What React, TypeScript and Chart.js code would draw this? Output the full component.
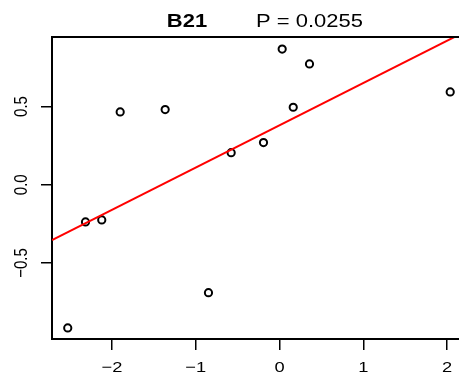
import React, { useEffect, useRef } from "react";
import { Chart, registerables } from "chart.js";

Chart.register(...registerables);

const TITLE_NAME = "B21";
const TITLE_P = "P = 0.0255";

const X_VALUES = [-2.528, -2.316, -2.122, -1.902, -1.365, -0.848, -0.577, -0.191, 0.032, 0.164, 0.358, 2.038];
const Y_VALUES = [-0.915, -0.238, -0.225, 0.465, 0.48, -0.69, 0.205, 0.269, 0.867, 0.495, 0.772, 0.593];

const FIT_INTERCEPT = 0.38;
const FIT_SLOPE = 0.27;

const X_TICKS = [-2, -1, 0, 1, 2];
const Y_TICKS = [-0.5, 0, 0.5];

const X_MIN = -2.716;
const X_MAX = 2.143;
const Y_MIN = -0.986;
const Y_MAX = 0.944;

const FONT = '"Liberation Sans", Arial, Helvetica, sans-serif';
const STRETCH = 1.22;

const fmtX = (v: number) => String(v).replace("-", "\u2212");
const fmtY = (v: number) => v.toFixed(1).replace("-", "\u2212");

const decorPlugin = {
  id: "decor",
  afterDraw(chart: any) {
    const { ctx, chartArea, scales } = chart;
    const xs = scales.x;
    const ys = scales.y;
    ctx.save();
    // top box line
    ctx.strokeStyle = "#000";
    ctx.lineWidth = 2;
    ctx.beginPath();
    ctx.moveTo(chartArea.left - 1, chartArea.top);
    ctx.lineTo(chartArea.right + 2, chartArea.top);
    ctx.stroke();

    ctx.fillStyle = "#000";
    // x tick labels
    ctx.font = `15px ${FONT}`;
    ctx.textAlign = "center";
    ctx.textBaseline = "alphabetic";
    X_TICKS.forEach((v) => {
      const px = xs.getPixelForValue(v);
      ctx.save();
      ctx.translate(px, chartArea.bottom + 33);
      ctx.scale(STRETCH, 1);
      ctx.fillText(fmtX(v), 0, 0);
      ctx.restore();
    });
    // y tick labels (rotated)
    Y_TICKS.forEach((v) => {
      const py = ys.getPixelForValue(v);
      ctx.save();
      ctx.translate(chartArea.left - 25, py);
      ctx.rotate(-Math.PI / 2);
      ctx.scale(1, STRETCH);
      ctx.fillText(fmtY(v), 0, 0);
      ctx.restore();
    });
    // title
    ctx.textAlign = "center";
    ctx.save();
    ctx.font = `bold 18px ${FONT}`;
    ctx.translate(chartArea.left + 135, 27);
    ctx.scale(STRETCH, 1);
    ctx.fillText(TITLE_NAME, 0, 0);
    ctx.restore();
    ctx.save();
    ctx.font = `18px ${FONT}`;
    ctx.translate(chartArea.left + 257.5, 27);
    ctx.scale(STRETCH, 1);
    ctx.fillText(TITLE_P, 0, 0);
    ctx.restore();
    ctx.restore();
  },
};

export default function App() {
  const ref = useRef<HTMLCanvasElement | null>(null);

  useEffect(() => {
    if (!ref.current) return;
    const points = X_VALUES.map((x, i) => ({ x, y: Y_VALUES[i] }));
    const fit = [X_MIN, X_MAX].map((x) => ({ x, y: FIT_INTERCEPT + FIT_SLOPE * x }));
    const chart = new Chart(ref.current, {
      type: "scatter",
      data: {
        datasets: [
          {
            type: "line",
            data: fit,
            borderColor: "#ff0000",
            borderWidth: 2,
            pointRadius: 0,
            fill: false,
            tension: 0,
          } as any,
          {
            data: points,
            pointStyle: "circle",
            pointRadius: 3.6,
            pointBorderWidth: 2,
            borderColor: "#000",
            backgroundColor: "rgba(0,0,0,0)",
            pointBackgroundColor: "rgba(0,0,0,0)",
            pointBorderColor: "#000",
          } as any,
        ],
      },
      options: {
        responsive: false,
        animation: false,
        events: [],
        layout: { autoPadding: false, padding: { top: 37, left: 0, right: 0, bottom: 0 } },
        plugins: {
          legend: { display: false },
          tooltip: { enabled: false },
          title: { display: false },
        },
        scales: {
          x: {
            type: "linear",
            min: X_MIN,
            max: X_MAX,
            afterBuildTicks: (scale: any) => {
              scale.ticks = X_TICKS.map((v) => ({ value: v }));
            },
            afterFit: (scale: any) => {
              scale.height = 41;
            },
            ticks: { display: false },
            grid: {
              drawOnChartArea: false,
              drawTicks: true,
              tickLength: 11,
              color: "#000",
              lineWidth: 1.5,
            },
            border: { display: true, color: "#000", width: 2 },
          },
          y: {
            type: "linear",
            min: Y_MIN,
            max: Y_MAX,
            afterBuildTicks: (scale: any) => {
              scale.ticks = Y_TICKS.map((v) => ({ value: v }));
            },
            afterFit: (scale: any) => {
              scale.width = 52;
            },
            ticks: { display: false },
            grid: {
              drawOnChartArea: false,
              drawTicks: true,
              tickLength: 11,
              color: "#000",
              lineWidth: 1.5,
            },
            border: { display: true, color: "#000", width: 2 },
          },
        },
      } as any,
      plugins: [decorPlugin],
    });
    return () => chart.destroy();
  }, []);

  return (
    <div style={{ position: "absolute", left: 0, top: 0, width: 459, height: 380, background: "#fff" }}>
      <canvas ref={ref} width={459} height={380} style={{ display: "block" }} />
    </div>
  );
}
